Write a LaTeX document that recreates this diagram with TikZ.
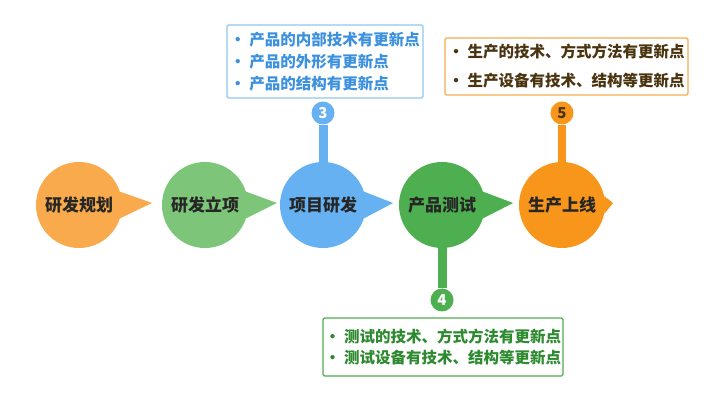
\documentclass[tikz,border=0pt]{standalone}
\usepackage{fontspec}
\setmainfont{Noto Sans CJK SC}
\usetikzlibrary{positioning}

\definecolor{planorange}{HTML}{F8AA4C}
\definecolor{lightgreen}{HTML}{7DC679}
\definecolor{projblue}{HTML}{66B1F2}
\definecolor{testgreen}{HTML}{4DAF4F}
\definecolor{liveorange}{HTML}{F7961A}
\definecolor{blueline}{HTML}{93C6F0}
\definecolor{bluetext}{HTML}{3C91DE}
\definecolor{orangeline}{HTML}{F4AC4E}
\definecolor{browntext}{HTML}{4A3410}
\definecolor{greentext}{HTML}{2D8A2F}

\tikzset{
    stage/.style={circle, fill=#1, minimum size=86pt, inner sep=0pt,
        font=\bfseries\fontsize{17}{17}\selectfont, text=black!85},
    badge/.style={circle, fill=#1, minimum size=23pt, inner sep=0pt,
        font=\bfseries\fontsize{15}{15}\selectfont, text=white},
    note/.style={draw=#1, line width=1.3pt, fill=white, rounded corners=1.5pt,
        align=left, inner sep=0pt},
    stalk/.style={draw=#1, line width=9pt},
}

\begin{document}
\begin{tikzpicture}[x=1pt,y=1pt]
    \useasboundingbox (0,0) rectangle (720,407);

    % the five stages, each with its pointer
    \foreach \name/\x/\col/\tip/\ang/\label in {
            plan/79/planorange/152/18/研发规划,
            start/205/lightgreen/277/18/研发立项,
            proj/323/projblue/393/18/项目研发,
            test/442/testgreen/513/18/产品测试,
            live/562/liveorange/613/12/生产上线} {
        \node[stage=\col] (\name) at (\x,202) {\label};
        \coordinate (\name tip) at (\tip,204);
        \fill[\col] (\name.\ang) -- (\name tip) -- (\name.-\ang) -- cycle;
    }

    % numbered badges
    \node[badge=projblue] (b3) at (323,294) {3};
    \node[badge=testgreen] (b4) at (442,107) {4};
    \node[badge=liveorange, text=browntext] (b5) at (562,294) {5};

    \draw[stalk=projblue] (b3.south) -- (proj.north);
    \draw[stalk=testgreen] (test.south) -- (b4.north);
    \draw[stalk=liveorange, line width=8pt] (b5.south) -- (live.north);

    % notes
    \node[note=blueline, minimum width=196pt, minimum height=73pt, text=bluetext,
        font=\bfseries\fontsize{15.5}{22}\selectfont] (projnote) at (325,345.5)
        {• 产品的内部技术有更新点\\• 产品的外形有更新点\\• 产品的结构有更新点};
    \node[note=orangeline, minimum width=243pt, minimum height=57pt, text=browntext,
        font=\bfseries\fontsize{15.5}{29}\selectfont] (livenote) at (566.5,340.5)
        {• 生产的技术、方式方法有更新点\\• 生产设备有技术、结构等更新点};
    \node[note=testgreen, minimum width=240pt, minimum height=58pt, text=greentext,
        font=\bfseries\fontsize{15.5}{20.5}\selectfont] (testnote) at (443,60)
        {• 测试的技术、方式方法有更新点\\• 测试设备有技术、结构等更新点};
\end{tikzpicture}
\end{document}
